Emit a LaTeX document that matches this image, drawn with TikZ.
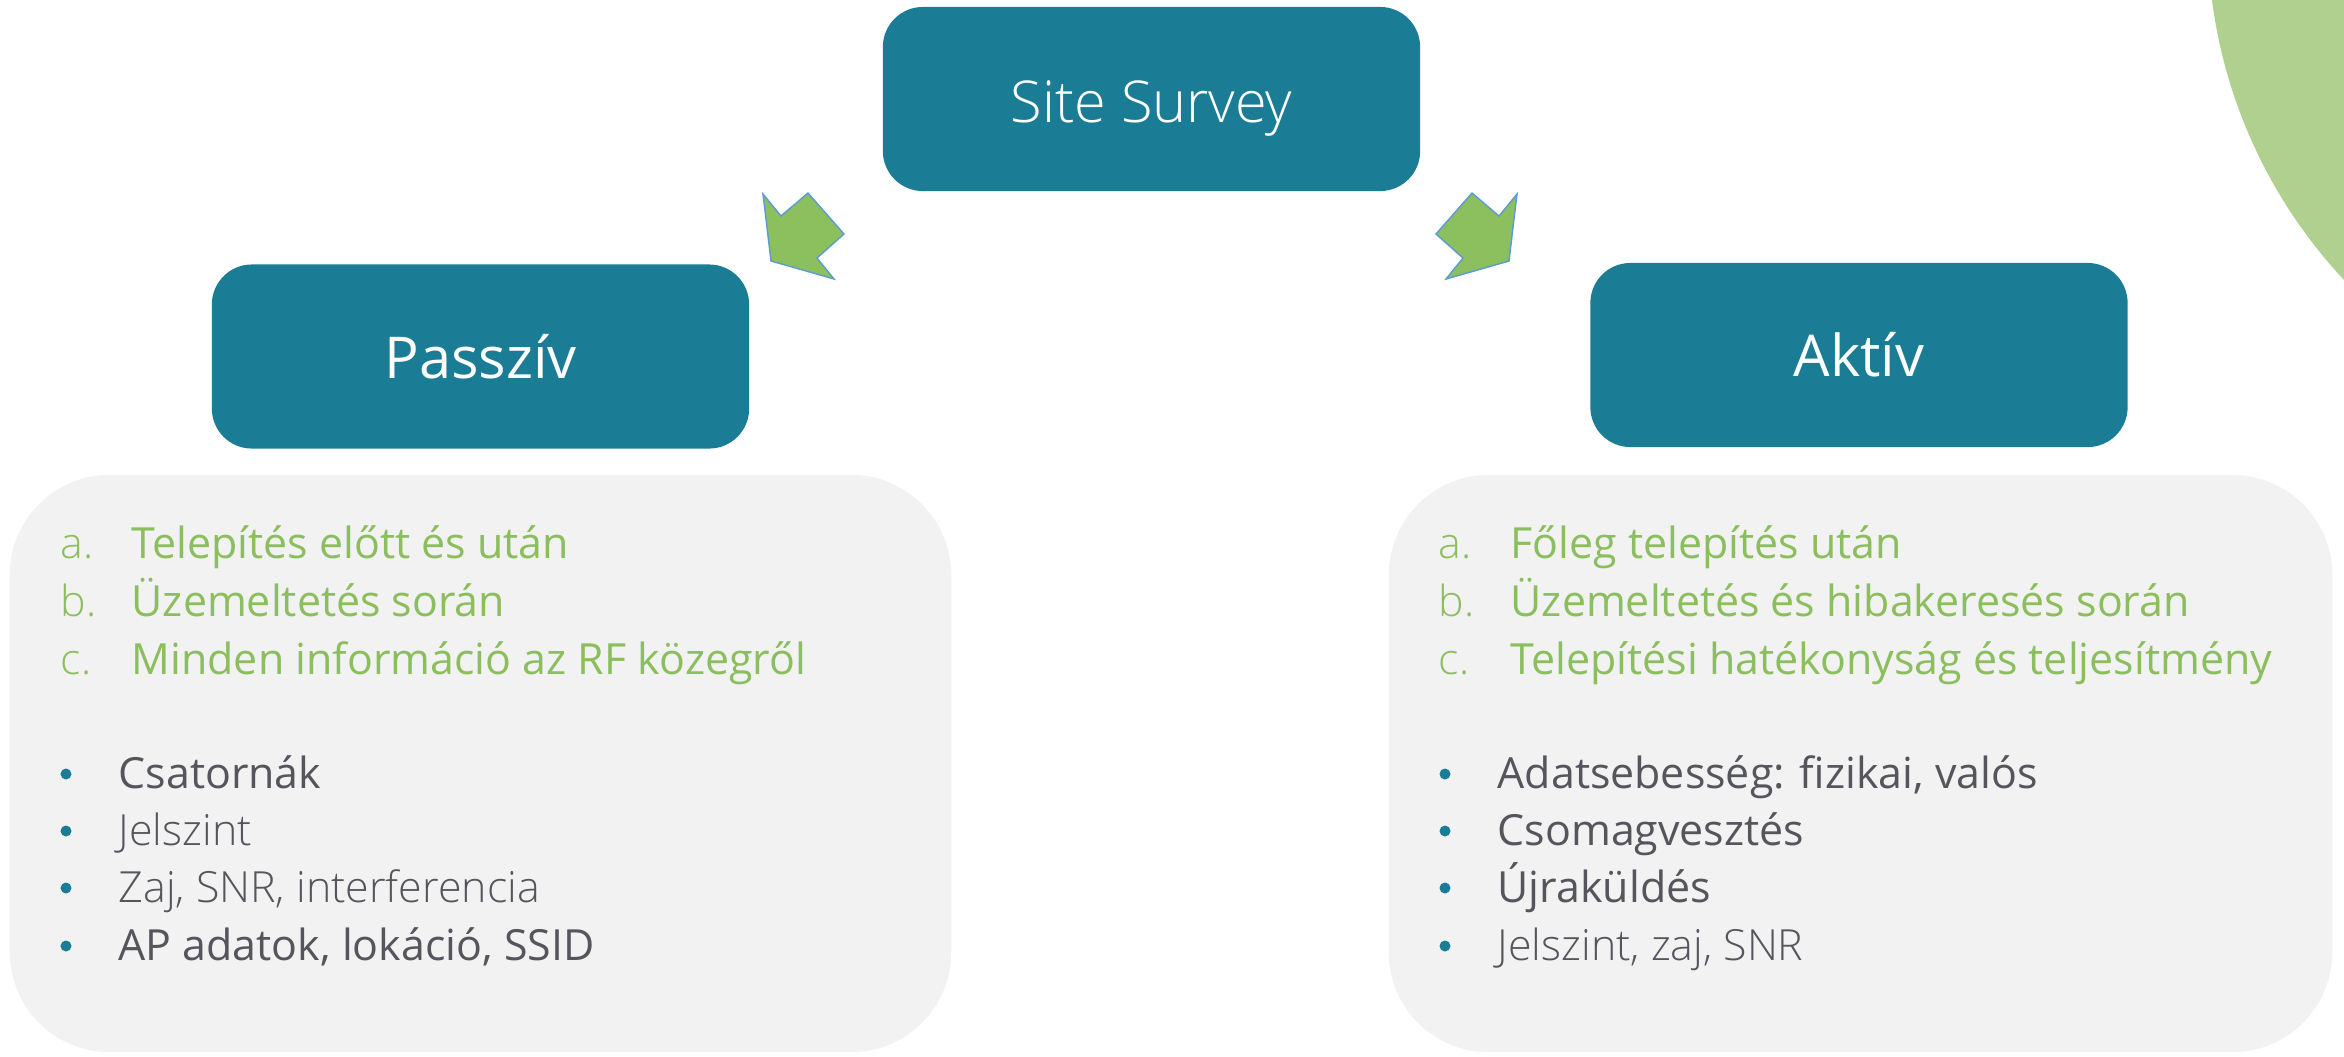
\documentclass[tikz,border=0pt]{standalone}
\usepackage{fontspec}
\setmainfont{Open Sans}
\newfontfamily\lightf{Open Sans Light}
\definecolor{tealc}{HTML}{1B7C96}
\definecolor{grayc}{HTML}{F2F2F2}
\definecolor{greent}{HTML}{8BBE5C}
\definecolor{darkt}{HTML}{55555D}
\definecolor{arrowf}{HTML}{8CBF5E}
\definecolor{arrowl}{HTML}{5B9BD5}
\definecolor{circc}{HTML}{AFD08F}
\tikzset{
  tealbox/.style={fill=tealc, rounded corners=0.4cm, minimum width=5.37cm, minimum height=1.84cm, inner sep=0pt, text=white, font=\fontsize{16.4pt}{19pt}\selectfont},
  titletext/.style={inner sep=0pt, text=white, font=\lightf\fontsize{16.4pt}{19pt}\selectfont},
  graybox/.style={fill=grayc, rounded corners=1cm, inner sep=0pt},
  lab/.style={anchor=base west, inner sep=0pt, text=greent, font=\lightf\fontsize{12.2pt}{14pt}\selectfont},
  gitem/.style={anchor=base west, inner sep=0pt, text=greent, font=\fontsize{12.2pt}{14pt}\selectfont},
  ditem/.style={anchor=base west, inner sep=0pt, text=darkt, font=\fontsize{12.2pt}{14pt}\selectfont},
  litem/.style={anchor=base west, inner sep=0pt, text=darkt, font=\lightf\fontsize{12.2pt}{14pt}\selectfont},
  bdot/.style={fill=tealc},
  blockarrow/.style={fill=arrowf, draw=arrowl, line width=0.4pt, line join=miter}
}
\begin{document}
\begin{tikzpicture}[x=0.01cm,y=-0.01cm]
\useasboundingbox (0,0) rectangle (2344,1056);
\begin{scope}
\clip (0,0) rectangle (2344,1056);
\fill[circc] (2715,-66) circle [radius=5.07cm];
\end{scope}
% title boxes
\node[tealbox] (survey) at (1151.5,99) {};
\node[titletext] (surveytext) at ([yshift=-0.09cm]survey.center) {Site Survey};
\node[tealbox] (passziv) at (480.5,356.5) {Passzív};
\node[tealbox] (aktiv) at (1859,355) {Aktív};
% block arrows
\draw[blockarrow] (763,194) -- (781,216) -- (808,193) -- (844,234) -- (817,258) -- (834,279) -- (771,261) -- cycle;
\draw[blockarrow] (1517,194) -- (1499,216) -- (1472,193) -- (1436,234) -- (1463,258) -- (1446,279) -- (1509,261) -- cycle;
% gray boxes
\node[graybox, minimum width=9.41cm, minimum height=5.77cm] (lbox) at (480.5,763.5) {};
\node[graybox, minimum width=9.43cm, minimum height=5.77cm] (rbox) at (1860.5,763.5) {};
% left list
\node[lab] (la) at (60,558) {a.};
\node[lab] (lb) at (60,616) {b.};
\node[lab] (lc) at (60,674) {c.};
\node[gitem] (lta) at (131,558) {Telepítés előtt és után};
\node[gitem] (ltb) at (131,616) {Üzemeltetés során};
\node[gitem] (ltc) at (131,674) {Minden információ az RF közegről};
\fill[bdot] (66,774) circle [radius=0.055cm];
\fill[bdot] (66,831) circle [radius=0.055cm];
\fill[bdot] (66,888) circle [radius=0.055cm];
\fill[bdot] (66,946) circle [radius=0.055cm];
\node[ditem] (l1) at (118,788) {Csatornák};
\node[litem] (l2) at (118,845) {Jelszint};
\node[litem] (l3) at (118,902) {Zaj, SNR, interferencia};
\node[ditem] (l4) at (118,960) {AP adatok, lokáció, SSID};
% right list
\node[lab] (ra) at (1438,558) {a.};
\node[lab] (rb) at (1438,616) {b.};
\node[lab] (rc) at (1438,674) {c.};
\node[gitem] (rta) at (1510,558) {Főleg telepítés után};
\node[gitem] (rtb) at (1510,616) {Üzemeltetés és hibakeresés során};
\node[gitem] (rtc) at (1510,674) {Telepítési hatékonyság és teljesítmény};
\fill[bdot] (1445,774) circle [radius=0.055cm];
\fill[bdot] (1445,831) circle [radius=0.055cm];
\fill[bdot] (1445,888) circle [radius=0.055cm];
\fill[bdot] (1445,946) circle [radius=0.055cm];
\node[ditem] (r1) at (1497,788) {Adatsebesség: fizikai, valós};
\node[ditem] (r2) at (1497,845) {Csomagvesztés};
\node[ditem] (r3) at (1497,902) {Újraküldés};
\node[litem] (r4) at (1497,960) {Jelszint, zaj, SNR};
\end{tikzpicture}
\end{document}
